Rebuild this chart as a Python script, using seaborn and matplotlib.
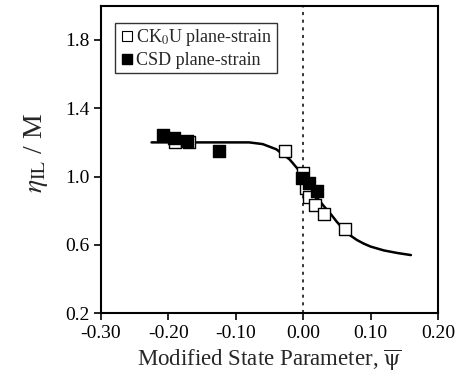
import numpy as np
import pandas as pd
import seaborn as sns
import matplotlib.pyplot as plt
from matplotlib.lines import Line2D

# CK0U plane-strain (open squares)
ck0u_psi = [-0.190, -0.170, -0.027, 0.000, 0.004, 0.008, 0.018, 0.031, 0.062]
ck0u_eta = [1.20, 1.20, 1.147, 1.02, 0.935, 0.88, 0.835, 0.78, 0.69]

# CSD plane-strain (filled squares)
csd_psi = [-0.208, -0.191, -0.172, -0.125, -0.001, 0.009, 0.020]
csd_eta = [1.245, 1.225, 1.21, 1.147, 0.99, 0.96, 0.915]

# fitted trend line
fit_psi = [-0.225, -0.15, -0.08, -0.06, -0.04, -0.02, -0.007, 0.0, 0.01, 0.02,
           0.03, 0.04, 0.05, 0.06, 0.07, 0.08, 0.09, 0.10, 0.12, 0.14, 0.16]
fit_eta = [1.20, 1.20, 1.20, 1.19, 1.16, 1.10, 1.04, 1.00, 0.94, 0.88,
           0.83, 0.785, 0.735, 0.69, 0.655, 0.628, 0.607, 0.59, 0.567, 0.552, 0.54]

sns.set_style('ticks')
plt.rcParams['font.family'] = ['Liberation Serif', 'DejaVu Serif']
plt.rcParams['mathtext.fontset'] = 'stix'

fig = plt.figure(figsize=(4.59, 3.88), dpi=100)
ax = fig.add_axes([0.220, 0.193, 0.734, 0.792])

ax.axvline(0, color='black', linestyle=(0, (2, 3)), linewidth=1.1, zorder=1)

fit = pd.DataFrame({'psi': fit_psi, 'eta': fit_eta})
sns.lineplot(data=fit, x='psi', y='eta', color='black', linewidth=1.8, sort=False, ax=ax, zorder=2)

ck = pd.DataFrame({'psi': ck0u_psi, 'eta': ck0u_eta})
csd = pd.DataFrame({'psi': csd_psi, 'eta': csd_eta})
sns.scatterplot(data=ck, x='psi', y='eta', marker='s', s=75, color='white',
                edgecolor='black', linewidth=1.0, ax=ax, zorder=3)
sns.scatterplot(data=csd, x='psi', y='eta', marker='s', s=75, color='black',
                edgecolor='black', linewidth=1.0, ax=ax, zorder=4)

ax.set_xlim(-0.30, 0.20)
ax.set_ylim(0.2, 2.0)
ax.set_xticks([-0.30, -0.20, -0.10, 0.00, 0.10, 0.20])
ax.set_xticklabels(['-0.30', '-0.20', '-0.10', '0.00', '0.10', '0.20'])
ax.set_yticks([0.2, 0.6, 1.0, 1.4, 1.8])
ax.set_yticklabels(['0.2', '0.6', '1.0', '1.4', '1.8'])
ax.tick_params(direction='out', length=5, width=1.2, labelsize=14, colors='black')
for sp in ax.spines.values():
    sp.set_linewidth(1.5)
    sp.set_color('black')

ax.set_xlabel(r'Modified State Parameter, $\overline{\mathrm{ψ}}$', fontsize=16.5)
ax.set_ylabel(r'$\eta_{\mathrm{IL}}$ / M', fontsize=20)
ax.yaxis.set_label_coords(-0.15, 0.52)

handles = [
    Line2D([], [], marker='s', linestyle='', markersize=7, markerfacecolor='white',
           markeredgecolor='black', markeredgewidth=0.8),
    Line2D([], [], marker='s', linestyle='', markersize=7, markerfacecolor='black',
           markeredgecolor='black'),
]
leg = ax.legend(handles, [r'CK$_0$U plane-strain', 'CSD plane-strain'], loc='upper left',
                fontsize=13, frameon=True, fancybox=False, edgecolor='black',
                handletextpad=0.1, handlelength=0.8, borderpad=0.25, labelspacing=0.2,
                borderaxespad=0.6, bbox_to_anchor=(0.01, 0.98))
leg.get_frame().set_linewidth(1.0)

fig.savefig('out.png', dpi=100)
